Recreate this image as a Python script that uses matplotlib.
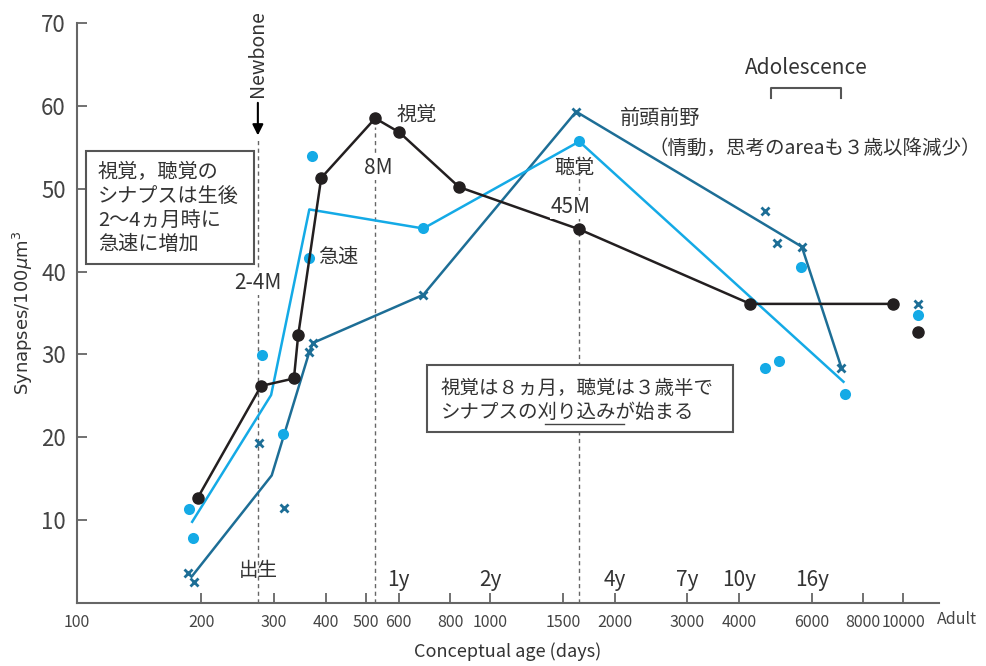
import matplotlib
matplotlib.use("Agg")
import matplotlib.pyplot as plt
from matplotlib.lines import Line2D
from matplotlib.patches import Rectangle

plt.rcParams['font.family'] = ['Noto Sans CJK JP', 'DejaVu Sans']

# ---------------- data ----------------
# Visual cortex (視覚) - black line with dots
vis_x = [196, 279, 335, 343, 390, 527, 603, 841, 1643, 4262, 9460]
vis_y = [12.7, 26.2, 27.1, 32.3, 51.3, 58.5, 56.8, 50.2, 45.1, 36.1, 36.1]
vis_adult_x = [10870]
vis_adult_y = [32.7]

# Auditory cortex (聴覚) - cyan line + dots
aud_line_x = [190, 295, 365, 689, 1643, 7164]
aud_line_y = [9.8, 25.1, 47.5, 45.2, 55.7, 26.7]
aud_pts_x = [187, 191, 280, 315, 371, 365, 689, 1643, 4635, 5010, 5663, 7238, 10870]
aud_pts_y = [11.3, 7.8, 29.9, 20.4, 53.9, 41.6, 45.2, 55.7, 28.4, 29.2, 40.5, 25.2, 34.7]

# Prefrontal cortex (前頭前野) - dark teal line + crosses
pfc_line_x = [191, 296, 365, 373, 689, 1615, 5680, 7082]
pfc_line_y = [3.4, 15.4, 30.3, 31.4, 37.2, 59.3, 43.0, 28.4]
pfc_pts_x = [186, 192, 276, 317, 365, 373, 689, 1615, 4635, 4935, 5680, 7082, 10870]
pfc_pts_y = [3.6, 2.5, 19.3, 11.5, 30.3, 31.4, 37.2, 59.3, 47.3, 43.4, 43.0, 28.4, 36.1]

# reference ages (days)
newborn_x = 274
m8_x = 527
m45_x = 1643

xticks = [100, 200, 300, 400, 500, 600, 800, 1000, 1500, 2000, 3000, 4000, 6000, 8000, 10000]
yticks = [10, 20, 30, 40, 50, 60, 70]
year_labels = ['1y', '2y', '4y', '7y', '10y', '16y']
year_pos = [600, 1000, 2000, 3000, 4000, 6000]

BLACK = '#231f20'
CYAN = '#14aae6'
TEAL = '#1d6e96'
GRAY = '#666666'
TXT = '#333333'

W, H = 987, 666
fig = plt.figure(figsize=(W / 100, H / 100), dpi=100)
ax = fig.add_axes([77 / W, 1 - 603 / H, (939 - 77) / W, (603 - 23) / H])

ax.set_xscale('log')
ax.set_xlim(100, 12200)
ax.set_ylim(0, 70)

# reference dashed lines
for xv, ytop in [(newborn_x, 56.0), (m8_x, 57.5), (m45_x, 54.0)]:
    ax.plot([xv, xv], [0, ytop], color=GRAY, lw=1.0, ls=(0, (3, 2.5)), zorder=1)

# series
ax.plot(pfc_line_x, pfc_line_y, color=TEAL, lw=1.8, zorder=2)
ax.plot(pfc_pts_x, pfc_pts_y, ls='none', marker='x', ms=6, mew=2, color=TEAL, zorder=3)
ax.plot(aud_line_x, aud_line_y, color=CYAN, lw=1.8, zorder=2)
ax.plot(aud_pts_x, aud_pts_y, ls='none', marker='o', ms=8, color=CYAN, mec='none', zorder=3)
ax.plot(vis_x, vis_y, color=BLACK, lw=1.8, marker='o', ms=8, zorder=4)
ax.plot(vis_adult_x, vis_adult_y, ls='none', marker='o', ms=8, color=BLACK, zorder=4)

# axes styling
for s in ['top', 'right']:
    ax.spines[s].set_visible(False)
for s in ['left', 'bottom']:
    ax.spines[s].set_color('#666666')
    ax.spines[s].set_linewidth(1.5)
ax.set_xticks(xticks)
ax.set_xticklabels([str(v) for v in xticks])
ax.xaxis.set_minor_locator(matplotlib.ticker.NullLocator())
ax.set_yticks(yticks)
ax.set_yticklabels([str(v) for v in yticks])
ax.tick_params(axis='x', direction='in', length=7, width=1.3, color='#666666',
               labelsize=11.5, labelcolor='#444444', pad=8)
ax.tick_params(axis='y', direction='in', length=7, width=1.3, color='#666666',
               labelsize=16, labelcolor='#444444', pad=8)
ax.set_ylabel('Synapses/100$\\mu$m$^3$', fontsize=13, color=TXT, labelpad=4,
              family='DejaVu Sans')
ax.set_xlabel('Conceptual age (days)', fontsize=13, color=TXT, labelpad=8)

# year labels just above axis
for lab, xp in zip(year_labels, year_pos):
    ax.text(xp, 2.8, lab, ha='center', va='center', fontsize=15, color=TXT)


def ftext(px, py, s, **kw):
    kw.setdefault('color', TXT)
    kw.setdefault('ha', 'center')
    kw.setdefault('va', 'center')
    fig.text(px / W, 1 - py / H, s, **kw)


def fline(xs, ys, **kw):
    fig.add_artist(Line2D([x / W for x in xs], [1 - y / H for y in ys], **kw))


ftext(258, 570, '出生', fontsize=14)
ftext(957, 619, 'Adult', fontsize=11.5, color='#444444')

# Newborn arrow
ftext(258, 54, 'Newbone', fontsize=14, rotation=90)
ax.annotate('', xy=(newborn_x, 56.1), xytext=(newborn_x, 60.7),
            arrowprops=dict(arrowstyle='-|>', color='black', lw=1.5, mutation_scale=16),
            annotation_clip=False)

# labels
ftext(258, 283, '2-4M', fontsize=15, bbox=dict(fc='white', ec='none', pad=0.5))
ftext(378, 168, '8M', fontsize=15, bbox=dict(fc='white', ec='none', pad=0.5))
ftext(571, 207, '45M', fontsize=15, bbox=dict(fc='white', ec='none', pad=0.5))
ftext(574, 168, '聴覚', fontsize=14.5)
ftext(417, 115, '視覚', fontsize=14.5)
ftext(338, 257, '急速', fontsize=14.5)
ftext(660, 118, '前頭前野', fontsize=14.5)
ftext(815, 148, '（情動，思考のareaも３歳以降減少）', fontsize=14)
ftext(806, 68, 'Adolescence', fontsize=15)
fline([771, 771, 841, 841], [98, 88, 88, 98], color='#555555', lw=1.5)

# box 1
fig.add_artist(Rectangle((86 / W, 1 - 264 / H), (254 - 86) / W, (264 - 151) / H,
                         transform=fig.transFigure, fill=True, fc='white',
                         ec='#555555', lw=1.5, zorder=5))
for py, s in zip([172, 196, 221, 245],
                 ['視覚，聴覚の', 'シナプスは生後', '2〜4ヵ月時に', '急速に増加']):
    ftext(98, py, s, fontsize=14.5, ha='left', zorder=6)

# box 2
fig.add_artist(Rectangle((427 / W, 1 - 432 / H), (733 - 427) / W, (432 - 365) / H,
                         transform=fig.transFigure, fill=True, fc='white',
                         ec='#555555', lw=1.5, zorder=5))
ftext(441, 388, '視覚は８ヵ月，聴覚は３歳半で', fontsize=14, ha='left', zorder=6)
ftext(441, 412, 'シナプスの刈り込みが始まる', fontsize=14, ha='left', zorder=6)
fline([545, 624], [424, 424], color='#444444', lw=1.0, zorder=6)

fig.savefig('out.png', dpi=100)
